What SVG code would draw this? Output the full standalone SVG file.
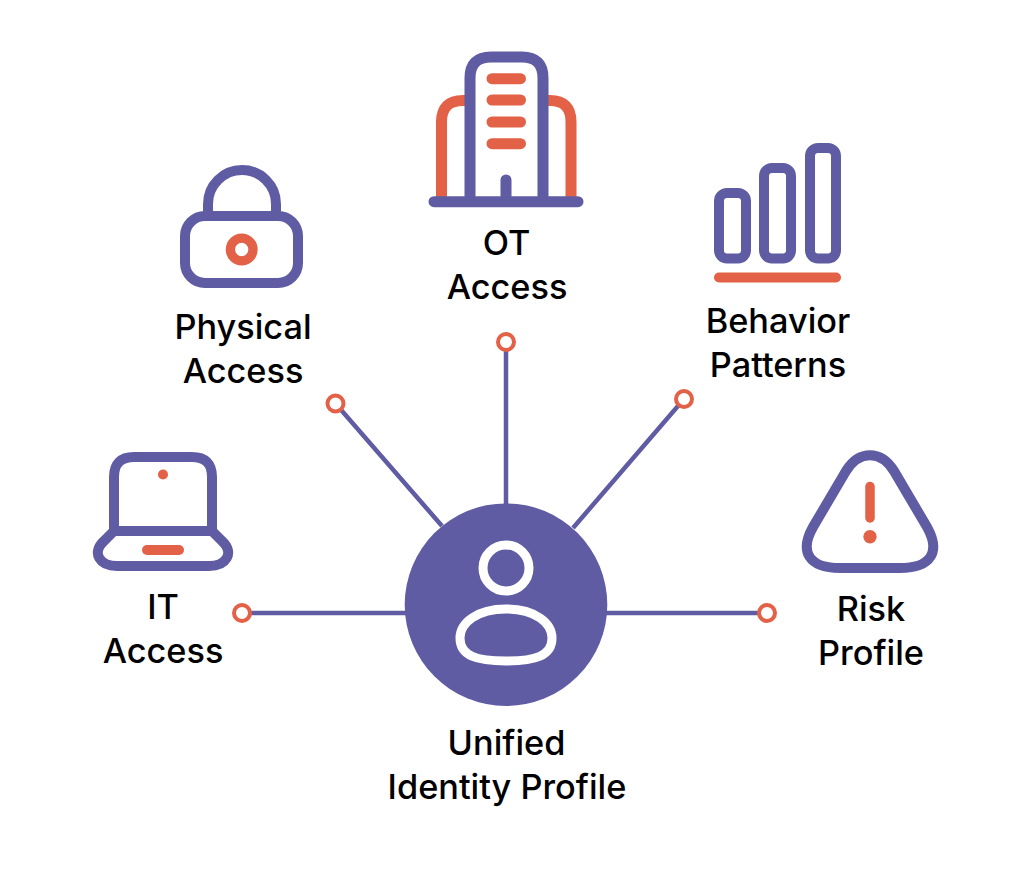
<svg xmlns="http://www.w3.org/2000/svg" width="1024" height="893" viewBox="0 0 1024 893">
<style>
.p{fill:none;stroke:#5f5ca4;stroke-width:10;stroke-linecap:round;stroke-linejoin:round}
.b{stroke-width:11}
.o{fill:none;stroke:#e36146;stroke-width:11;stroke-linecap:round;stroke-linejoin:round}
.c{fill:none;stroke:#5f5ca4;stroke-width:4.5}
.d{fill:#fff;stroke:#e36146;stroke-width:4}
.w{fill:none;stroke:#fff;stroke-width:9}
text{font-family:"Inter","Liberation Sans",sans-serif;font-size:34.3px;font-weight:500;fill:#000;text-anchor:middle}
</style>
<rect width="1024" height="893" fill="#fff"/>
<g id="connectors">
<path class="c" d="M506 342V505M335.500 403.500L442 526M684 399L573 528M242 613H406M767 613H606"/>
<circle class="d" cx="506" cy="342" r="8"/><circle class="d" cx="335.500" cy="403.500" r="8"/><circle class="d" cx="684" cy="399" r="8"/><circle class="d" cx="242" cy="613" r="8"/><circle class="d" cx="767" cy="613" r="8"/>
</g>
<g id="ot-access">
<path class="o" d="M441.500 196V122Q441.500 100.500 463 100.500H465M571 196V122Q571 100.500 550 100.500H548"/>
<path class="p b" d="M470 196V78Q470 57 491 57H522Q543 57 543 78V196M506 196V180M434 201.700H578"/>
<path class="o" d="M492 78.700H520.500M492 100H520.500M492 122H520.500M492 143.700H520.500"/>
<text x="506.500" y="255">OT</text><text x="507" y="299">Access</text>
</g>
<g id="physical-access">
<path class="p" d="M208 216V204A34 34 0 0 1 276 204V216"/>
<rect class="p" x="185" y="216" width="113" height="67" rx="20"/>
<circle cx="241.700" cy="249.500" r="11.300" fill="none" stroke="#e36146" stroke-width="9.300"/>
<text x="243" y="339">Physical</text><text x="243" y="383">Access</text>
</g>
<g id="behavior-patterns">
<rect class="p" x="719" y="193" width="27" height="65.500" rx="8"/>
<rect class="p" x="764" y="168" width="27" height="90.500" rx="8"/>
<rect class="p" x="810" y="148" width="26" height="110.500" rx="8"/>
<path class="o" style="stroke-width:10" d="M719 277.500H836"/>
<text x="778" y="333">Behavior</text><text x="778" y="377">Patterns</text>
</g>
<g id="it-access">
<path class="p" d="M114 531V477Q114 457 134 457H192Q212 457 212 477V531M114 531H212M114 531L104 541C91 553 100 566 117 566H209C226 566 235 553 222 541L212 531"/>
<circle cx="163" cy="474.500" r="5" fill="#e36146"/>
<path class="o" style="stroke-width:10" d="M147 550H179"/>
<text x="163" y="619">IT</text><text x="163" y="663">Access</text>
</g>
<g id="risk-profile">
<path class="p" d="M846 471C859 450 881 450 894 471L927 527C941 552 931 568 900 568H840C809 568 799 552 813 527Z"/>
<path d="M870 486.500V518" fill="none" stroke="#e36146" stroke-width="9.500" stroke-linecap="round"/>
<circle cx="870" cy="536.700" r="6.700" fill="#e36146"/>
<text x="871" y="621">Risk</text><text x="871" y="665">Profile</text>
</g>
<g id="unified-identity-profile">
<circle cx="506" cy="604.700" r="101.300" fill="#5f5ca4"/>
<circle class="w" cx="506" cy="568" r="23"/>
<path class="w" d="M506 609C535 609 552 623 552 638C552 656 535 661 506 661S460 656 460 638C460 623 477 609 506 609Z"/>
<text x="506.500" y="755">Unified</text><text x="507" y="799">Identity Profile</text>
</g>
</svg>
